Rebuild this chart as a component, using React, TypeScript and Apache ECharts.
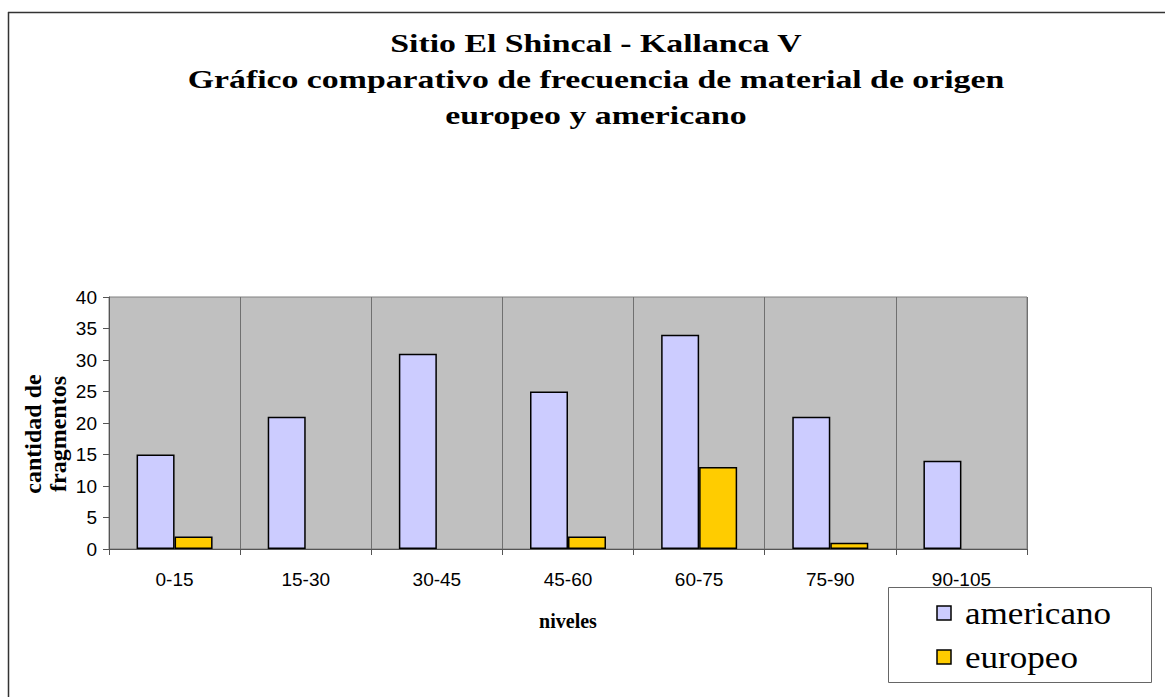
import React, { useEffect, useRef } from "react";
import * as echarts from "echarts";

const categories = ["0-15", "15-30", "30-45", "45-60", "60-75", "75-90", "90-105"];
const americano = [15, 21, 31, 25, 34, 21, 14];
const europeo = [2, 0, 0, 2, 13, 1, 0];
const seriesNames = ["americano", "europeo"];
const seriesColors = ["#ccccff", "#ffcc00"];
const titleLines = [
  "Sitio El Shincal - Kallanca V",
  "Gráfico comparativo de frecuencia de material de origen",
  "europeo y americano",
];
const yName = ["cantidad de", "fragmentos"];
const xName = "niveles";

export default function App() {
  const ref = useRef<HTMLDivElement>(null);
  useEffect(() => {
    if (!ref.current) return;
    const chart = echarts.init(ref.current, null, { renderer: "svg" });
    const sans = "Liberation Sans";
    const noZero = (arr: number[]) => arr.map((v) => (v === 0 ? null : v));
    const legendItems: any[] = [
      {
        type: "rect",
        shape: { x: 888.5, y: 587.5, width: 263, height: 95 },
        style: { fill: "#ffffff", stroke: "#666666", lineWidth: 1 },
        silent: true,
      },
    ];
    seriesNames.forEach((name, i) => {
      const cy = 613 + i * 44;
      legendItems.push({
        type: "rect",
        shape: { x: 937, y: cy - 7, width: 14, height: 14 },
        style: { fill: seriesColors[i], stroke: "#000", lineWidth: 1.5 },
        silent: true,
      });
      legendItems.push({
        type: "text",
        x: 965,
        y: cy,
        scaleX: 1.17,
        scaleY: 1.05,
        style: {
          text: name,
          verticalAlign: "middle",
          align: "left",
          font: "normal 30px 'Liberation Serif'",
          fill: "#000",
        },
      });
    });
    chart.setOption({
      animation: false,
      backgroundColor: "#ffffff",
      grid: {
        left: 109,
        top: 297,
        right: 138,
        bottom: 148,
        show: true,
        backgroundColor: "#c0c0c0",
        borderColor: "#808080",
        borderWidth: 1,
      },
      xAxis: {
        type: "category",
        data: categories,
        boundaryGap: true,
        name: xName,
        nameLocation: "middle",
        nameGap: 62,
        nameTextStyle: {
          fontFamily: "Liberation Serif",
          fontWeight: "bold",
          fontSize: 20,
          color: "#000",
          verticalAlign: "top",
        },
        axisLine: { show: true, lineStyle: { color: "#555", width: 1 } },
        axisTick: { show: true, length: 6, alignWithLabel: false, lineStyle: { color: "#555" } },
        axisLabel: { fontFamily: sans, fontSize: 19, color: "#000", margin: 21, interval: 0 },
        splitLine: { show: true, interval: 0, lineStyle: { color: "#707070", width: 1 } },
      },
      yAxis: {
        type: "value",
        min: 0,
        max: 40,
        interval: 5,
        axisLine: { show: true, lineStyle: { color: "#555", width: 1 } },
        axisTick: { show: true, length: 6, lineStyle: { color: "#555" } },
        axisLabel: { fontFamily: sans, fontSize: 19, color: "#000", margin: 12 },
        splitLine: { show: false },
      },
      series: [
        {
          name: seriesNames[0],
          type: "bar",
          data: noZero(americano),
          barWidth: 38,
          barGap: "0%",
          itemStyle: { color: seriesColors[0], borderColor: "#000", borderWidth: 1.5 },
        },
        {
          name: seriesNames[1],
          type: "bar",
          data: noZero(europeo),
          barWidth: 38,
          barGap: "0%",
          itemStyle: { color: seriesColors[1], borderColor: "#000", borderWidth: 1.5 },
        },
      ],
      graphic: [
        {
          type: "line",
          shape: { x1: 8, y1: 12.5, x2: 1165, y2: 12.5 },
          style: { stroke: "#333", lineWidth: 1.5 },
          silent: true,
        },
        {
          type: "line",
          shape: { x1: 8.5, y1: 12, x2: 8.5, y2: 697 },
          style: { stroke: "#333", lineWidth: 1.5 },
          silent: true,
        },
        {
          type: "text",
          x: 596,
          y: 25,
          scaleX: 1.3,
          style: {
            text: titleLines.join("\n"),
            align: "center",
            verticalAlign: "top",
            font: "bold 26px 'Liberation Serif'",
            lineHeight: 36,
            fill: "#000",
          },
        },
        {
          type: "text",
          x: 45,
          y: 434,
          rotation: Math.PI / 2,
          style: {
            text: yName.join("\n"),
            align: "center",
            verticalAlign: "middle",
            font: "bold 24px 'Liberation Serif'",
            lineHeight: 25,
            fill: "#000",
          },
        },
        ...legendItems,
      ],
    });
    return () => chart.dispose();
  }, []);
  return (
    <div
      ref={ref}
      style={{ position: "fixed", left: 0, top: 0, width: 1165, height: 697 }}
    />
  );
}
